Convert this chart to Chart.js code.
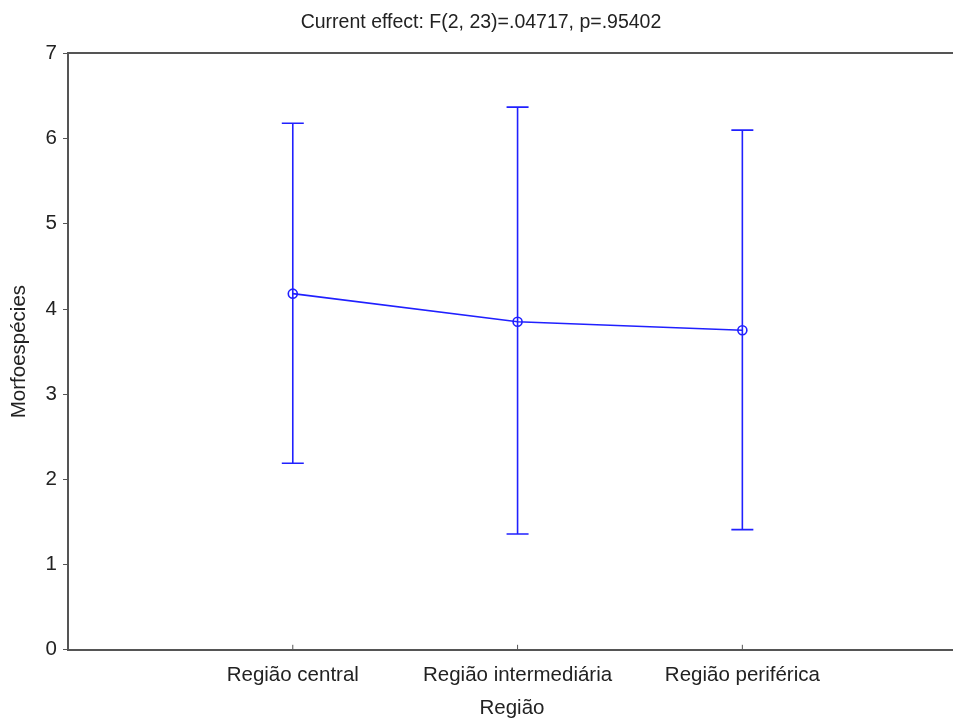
<!DOCTYPE html>
<html>
<head>
<meta charset="utf-8">
<script src="https://cdn.jsdelivr.net/npm/chart.js@4.4.1/dist/chart.umd.min.js"></script>
<style>
  html, body { margin: 0; padding: 0; background: #fff; overflow: hidden; }
  #wrap { width: 953px; height: 722px; overflow: hidden; }
</style>
</head>
<body>
<div id="wrap"><canvas id="myChart" width="962" height="722"></canvas></div>
<script>
// data
const regioes = ['Região central', 'Região intermediária', 'Região periférica'];
const posicoes = [1, 2, 3];
const medias = [4.18, 3.85, 3.75];
const limInf = [2.19, 1.36, 1.41];
const limSup = [6.18, 6.37, 6.10];
const yTicks = [0, 1, 2, 3, 4, 5, 6, 7];

const azul = '#2020ff';
const ctx = document.getElementById('myChart').getContext('2d');

// whiskers + inward x ticks, drawn through the chart scales
const errorBars = {
    id: 'errorBars',
    afterDatasetsDraw(chart) {
        const x = chart.scales.x, y = chart.scales.y;
        const c = chart.ctx;
        c.save();
        c.strokeStyle = azul;
        c.lineWidth = 1.6;
        for (let i = 0; i < posicoes.length; i++) {
            const px = x.getPixelForValue(posicoes[i]);
            const top = y.getPixelForValue(limSup[i]);
            const bot = y.getPixelForValue(limInf[i]);
            c.beginPath();
            c.moveTo(px, top); c.lineTo(px, bot);
            c.moveTo(px - 11, top); c.lineTo(px + 11, top);
            c.moveTo(px - 11, bot); c.lineTo(px + 11, bot);
            c.stroke();
        }
        c.strokeStyle = '#555';
        c.lineWidth = 1;
        for (let i = 0; i < posicoes.length; i++) {
            const px = x.getPixelForValue(posicoes[i]);
            c.beginPath();
            c.moveTo(px, y.bottom); c.lineTo(px, y.bottom - 5);
            c.stroke();
        }
        c.restore();
    }
};

const fonte = { family: 'Liberation Sans', size: 20.5 };

const myChart = new Chart(ctx, {
    type: 'line',
    data: {
        datasets: [{
            label: 'Morfoespécies',
            data: posicoes.map((p, i) => ({ x: p, y: medias[i] })),
            borderColor: azul,
            backgroundColor: 'rgba(0,0,0,0)',
            borderWidth: 1.6,
            pointRadius: 4.5,
            pointBorderWidth: 1.6,
            pointBorderColor: azul,
            pointBackgroundColor: 'rgba(0,0,0,0)',
            tension: 0
        }]
    },
    options: {
        responsive: false,
        animation: false,
        layout: { padding: { left: 0, right: 0, top: 10, bottom: 1 } },
        plugins: {
            legend: { display: false },
            tooltip: { enabled: false },
            title: {
                display: true,
                text: 'Current effect: F(2, 23)=.04717, p=.95402',
                color: '#222',
                font: { family: 'Liberation Sans', size: 19.5, weight: 'normal' },
                padding: { top: 1, bottom: 11 }
            }
        },
        scales: {
            x: {
                type: 'linear',
                min: 0,
                max: 3.95,
                grid: { display: false },
                border: { display: true, color: '#555', width: 2 },
                ticks: {
                    stepSize: 1,
                    autoSkip: false,
                    maxRotation: 0,
                    color: '#222',
                    padding: 5,
                    font: fonte,
                    callback: (v) => regioes[posicoes.indexOf(v)] || ''
                },
                title: {
                    display: true,
                    text: 'Região',
                    color: '#222',
                    font: fonte,
                    padding: { top: 4, bottom: 0 }
                }
            },
            x2: {
                type: 'linear',
                position: 'top',
                min: 0,
                max: 3.95,
                grid: { display: false },
                border: { display: true, color: '#555', width: 2 },
                ticks: { display: false }
            },
            y: {
                min: 0,
                max: 7,
                afterBuildTicks: (s) => { s.ticks = yTicks.map(v => ({ value: v })); },
                grid: { drawOnChartArea: false, drawTicks: true, tickLength: 5, color: '#555' },
                border: { display: true, color: '#555', width: 2 },
                ticks: {
                    color: '#222',
                    padding: 6,
                    font: fonte
                },
                title: {
                    display: true,
                    text: 'Morfoespécies',
                    color: '#222',
                    font: fonte,
                    padding: { top: 7, bottom: 8 }
                }
            }
        }
    },
    plugins: [errorBars]
});
</script>
</body>
</html>
